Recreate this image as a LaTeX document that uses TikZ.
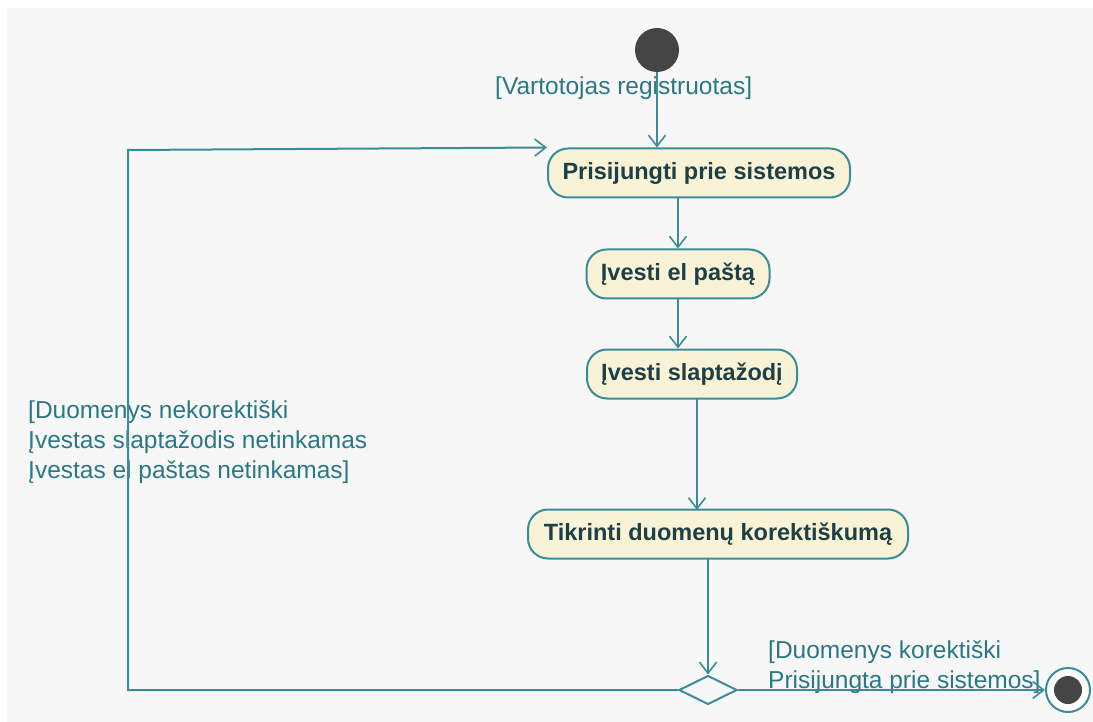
\documentclass[tikz,border=0pt]{standalone}
\usepackage{fontspec}
\setmainfont{Liberation Sans}
\usetikzlibrary{arrows.meta,shapes.geometric}
\definecolor{edge}{HTML}{3B8C99}
\definecolor{labeltxt}{HTML}{2A7886}
\definecolor{actfill}{HTML}{F8F3D6}
\definecolor{acttxt}{HTML}{1E3F45}
\definecolor{bg}{HTML}{F7F7F7}
\definecolor{dot}{HTML}{454545}
\begin{document}
\begin{tikzpicture}[x=1pt,y=-1pt,
  flow/.style={draw=edge,line width=2pt,-{Straight Barb[length=11pt,width=17pt,line width=1.6pt]}},
  action/.style={draw=edge,line width=2pt,fill=actfill,rounded corners=20pt,
    minimum height=49pt,inner xsep=8pt,text=acttxt,font=\fontsize{23.5}{28}\selectfont\bfseries},
  guard/.style={text=labeltxt,font=\fontsize{24.5}{30}\selectfont,align=left,inner sep=0pt}
]
\useasboundingbox (0,0) rectangle (1093,722);
\fill[bg] (7,8) rectangle (1093,722);

% initial node
\node[circle,fill=dot,minimum size=44pt,inner sep=0pt] (start) at (657,50) {};
\node[guard,anchor=west] (g0) at (495,88) {[Vartotojas registruotas]};

% actions
\node[action,minimum width=302pt] (login) at (699,173) {Prisijungti prie sistemos};
\node[action,minimum width=183pt] (mail) at (678,274) {Įvesti el paštą};
\node[action,minimum width=210pt] (pass) at (692,374) {Įvesti slaptažodį};
\node[action,minimum width=380pt] (check) at (718,534) {Tikrinti duomenų korektiškumą};

% decision and final node
\node[diamond,draw=edge,line width=2pt,fill=bg,minimum width=58pt,minimum height=29pt,inner sep=0pt] (dec) at (708,690) {};
\node[circle,draw=edge,line width=2pt,fill=white,minimum size=44pt,inner sep=0pt] (end) at (1068,690) {};
\node[circle,fill=dot,minimum size=28pt,inner sep=0pt] at (end) {};

% guards (drawn before the connectors, which cross them)
\node[guard,anchor=north west] (g1) at (28,400) {[Duomenys nekorektiški\\Įvestas slaptažodis netinkamas\\Įvestas el paštas netinkamas]};
\node[guard,anchor=north west] (g2) at (768,640) {[Duomenys korektiški\\Prisijungta prie sistemos]};

% flow
\draw[flow] (start) -- (start |- login.north);
\draw[flow] (678,198) -- (mail.north);
\draw[flow] (mail.south) -- (mail.south |- pass.north);
\draw[flow] (697,398) -- (697,510);
\draw[flow] (708,558) -- (dec.north);
\coordinate (lb) at (128,690);
\coordinate (lt) at (128,150);
\draw[flow] (dec.west) -- (lb) -- (lt) -- (login.north west);
\draw[flow] (dec.east) -- (end.west);
\end{tikzpicture}
\end{document}
